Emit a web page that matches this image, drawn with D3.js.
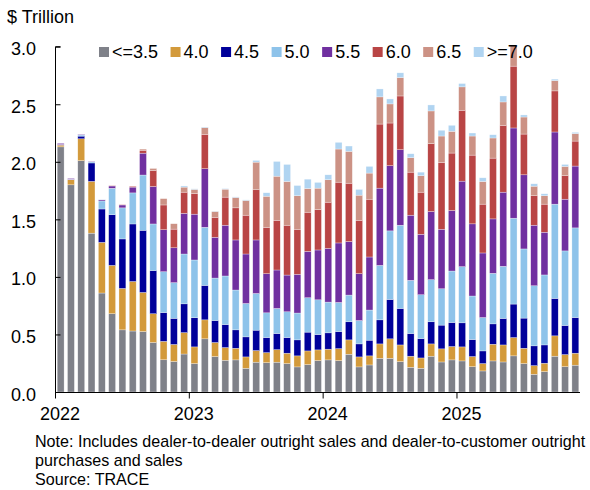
<!DOCTYPE html>
<html>
<head>
<meta charset="utf-8">
<script src="https://cdn.jsdelivr.net/npm/d3@7"></script>
<style>
    body { margin: 0; background: #fff; }
    svg text { font-family: "Liberation Sans", Arial, sans-serif; fill: #000; }
</style>
</head>
<body>
<script>
// 4-week periods, 13 per year (12 so far in 2025)
var years = [2022, 2023, 2024, 2025];
var periodsPerYear = [13, 13, 13, 12];

var couponLabels = ["<=3.5", "4.0", "4.5", "5.0", "5.5", "6.0", "6.5", ">=7.0"];
var couponColors = ["#7f8189", "#d39a3b", "#00009a", "#8ec3ea", "#7030a0", "#b94545", "#cc9285", "#b0d4f1"];

var yTicks = [0, 0.5, 1.0, 1.5, 2.0, 2.5, 3.0];

// $ trillion by coupon bucket
var c35 = [2.13, 1.80, 2.01, 1.38, 0.86, 0.68, 0.54, 0.53, 0.525, 0.43, 0.28, 0.265, 0.33,
    0.247, 0.462, 0.308, 0.276, 0.279, 0.206, 0.259, 0.255, 0.259, 0.247, 0.218, 0.238, 0.273,
    0.279, 0.273, 0.328, 0.218, 0.235, 0.293, 0.293, 0.264, 0.215, 0.206, 0.311, 0.261, 0.279,
    0.27, 0.22, 0.183, 0.27, 0.261, 0.314, 0.247, 0.154, 0.177, 0.311, 0.22, 0.233];
var c40 = [0.015, 0.044, 0.19, 0.45, 0.44, 0.42, 0.36, 0.43, 0.34, 0.25, 0.16, 0.148, 0.186,
    0.145, 0.165, 0.122, 0.11, 0.101, 0.099, 0.101, 0.087, 0.109, 0.09, 0.096, 0.119, 0.093,
    0.093, 0.104, 0.125, 0.087, 0.079, 0.125, 0.169, 0.145, 0.096, 0.09, 0.107, 0.114, 0.116,
    0.122, 0.088, 0.064, 0.145, 0.148, 0.159, 0.133, 0.075, 0.073, 0.177, 0.105, 0.104];
var c45 = [0.003, 0.002, 0.023, 0.16, 0.29, 0.44, 0.43, 0.50, 0.54, 0.375, 0.25, 0.227, 0.25,
    0.253, 0.299, 0.191, 0.2, 0.16, 0.174, 0.177, 0.131, 0.14, 0.136, 0.139, 0.163, 0.133,
    0.142, 0.148, 0.157, 0.113, 0.136, 0.209, 0.342, 0.317, 0.197, 0.168, 0.192, 0.206, 0.209,
    0.209, 0.148, 0.11, 0.177, 0.23, 0.291, 0.262, 0.172, 0.159, 0.325, 0.253, 0.31];
var c50 = [0.002, 0.002, 0.01, 0.01, 0.07, 0.23, 0.27, 0.27, 0.48, 0.405, 0.355, 0.31, 0.433,
    0.502, 0.505, 0.369, 0.422, 0.346, 0.29, 0.319, 0.215, 0.218, 0.224, 0.233, 0.299, 0.302,
    0.267, 0.253, 0.232, 0.203, 0.262, 0.473, 0.596, 0.723, 0.462, 0.381, 0.366, 0.316, 0.447,
    0.488, 0.378, 0.29, 0.439, 0.453, 0.746, 0.601, 0.522, 0.608, 0.819, 0.648, 0.779];
var c55 = [0.01, 0.007, 0.005, 0.005, 0.01, 0.02, 0.025, 0.05, 0.19, 0.325, 0.365, 0.303, 0.353,
    0.398, 0.509, 0.354, 0.441, 0.435, 0.43, 0.465, 0.34, 0.334, 0.319, 0.336, 0.403, 0.433,
    0.467, 0.517, 0.465, 0.407, 0.461, 0.671, 0.566, 0.656, 0.566, 0.525, 0.592, 0.517, 0.526,
    0.743, 0.627, 0.561, 0.473, 0.644, 0.784, 0.644, 0.526, 0.371, 0.627, 0.449, 0.537];
var c60 = [0, 0, 0, 0, 0, 0.003, 0.003, 0.007, 0.025, 0.14, 0.215, 0.162, 0.184,
    0.18, 0.299, 0.174, 0.244, 0.279, 0.337, 0.436, 0.403, 0.432, 0.433, 0.392, 0.34, 0.351,
    0.401, 0.528, 0.507, 0.464, 0.502, 0.557, 0.371, 0.467, 0.374, 0.366, 0.59, 0.581, 0.499,
    0.616, 0.597, 0.424, 0.528, 0.581, 0.537, 0.354, 0.256, 0.244, 0.357, 0.204, 0.217];
var c65 = [0, 0, 0, 0, 0, 0, 0, 0, 0.01, 0.017, 0.055, 0.047, 0.044,
    0.035, 0.058, 0.05, 0.069, 0.09, 0.128, 0.24, 0.27, 0.383, 0.38, 0.291, 0.206, 0.186,
    0.195, 0.288, 0.277, 0.218, 0.227, 0.236, 0.166, 0.16, 0.126, 0.143, 0.284, 0.229, 0.189,
    0.203, 0.166, 0.197, 0.175, 0.203, 0.179, 0.148, 0.083, 0.073, 0.09, 0.081, 0.065];
var c70 = [0, 0, 0, 0, 0.003, 0, 0, 0, 0, 0, 0, 0, 0.01,
    0.005, 0.005, 0.003, 0.005, 0.005, 0.005, 0.015, 0.03, 0.128, 0.148, 0.089, 0.081, 0.05,
    0.043, 0.058, 0.046, 0.05, 0.058, 0.069, 0.043, 0.041, 0.034, 0.031, 0.052, 0.05, 0.052,
    0.029, 0.026, 0.032, 0.028, 0.052, 0.005, 0.018, 0.021, 0.017, 0.012, 0.017, 0.011];

var series = [c35, c40, c45, c50, c55, c60, c65, c70];

var _width = 590, _height = 490;
var _plot = {left: 55, right: 580, top: 46.7, bottom: 392};

var periods = [];
years.forEach(function (yr, k) {
    for (var p = 1; p <= periodsPerYear[k]; p++) {
        periods.push(yr + "-" + p);
    }
});

var rows = periods.map(function (p, i) {
    var row = {period: p, idx: i};
    couponLabels.forEach(function (c, j) {
        row[c] = series[j][i];
    });
    return row;
});

var stacked = d3.stack().keys(couponLabels)(rows);

var x = d3.scaleLinear()
    .domain([0, periods.length])
    .range([_plot.left, _plot.right]);

var y = d3.scaleLinear()
    .domain([0, 3])
    .range([_plot.bottom, _plot.top]);

var color = d3.scaleOrdinal().domain(couponLabels).range(couponColors);

var svg = d3.select("body").append("svg")
    .attr("width", _width)
    .attr("height", _height);

svg.append("text")
    .attr("x", 7)
    .attr("y", 23)
    .style("font-size", "18px")
    .text("$ Trillion");

// bars
var step = x(1) - x(0);
var gap = 3.4;

svg.append("g").attr("class", "bars")
    .selectAll("g")
    .data(stacked)
    .enter().append("g")
    .attr("fill", function (d) { return color(d.key); })
    .selectAll("rect")
    .data(function (d) { return d; })
    .enter().append("rect")
    .attr("x", function (d) { return x(d.data.idx) + gap / 2 + 0.5; })
    .attr("width", step - gap)
    .attr("y", function (d) { return y(d[1]); })
    .attr("height", function (d) { return Math.max(0, y(d[0]) - y(d[1])); })
    .attr("stroke", "#fff")
    .attr("stroke-opacity", 0.6)
    .attr("stroke-width", 0.5);

// y axis, ticks pointing into the plot
var yAxis = d3.axisRight(y)
    .tickValues(yTicks)
    .tickSize(5)
    .tickFormat("");

svg.append("g")
    .attr("transform", "translate(" + (_plot.left + 0.5) + ",0)")
    .call(yAxis)
    .call(function (g) {
        g.select(".domain").attr("d", "M5," + y(3) + "H0V" + (_plot.bottom + 0.5));
        g.selectAll("line, path").attr("stroke", "#000");
    });

svg.append("g").attr("class", "ylabels")
    .selectAll("text")
    .data(yTicks)
    .enter().append("text")
    .attr("x", 36)
    .attr("y", function (d) { return y(d) + 8.5; })
    .attr("text-anchor", "end")
    .style("font-size", "18px")
    .text(function (d) { return d3.format(".1f")(d); });

// x axis with year ticks
var yearStarts = [];
var acc = 0;
periodsPerYear.forEach(function (n) {
    yearStarts.push(acc);
    acc += n;
});

var xAxis = d3.axisBottom(x)
    .tickValues(yearStarts)
    .tickSize(6)
    .tickFormat("");

svg.append("g")
    .attr("transform", "translate(0," + (_plot.bottom + 0.5) + ")")
    .call(xAxis)
    .call(function (g) {
        g.select(".domain").attr("d", "M" + (_plot.left) + ",0H" + _plot.right);
        g.selectAll("line, path").attr("stroke", "#000");
    });

svg.append("g").attr("class", "xlabels")
    .selectAll("text")
    .data(yearStarts)
    .enter().append("text")
    .attr("x", function (d) { return x(d) + 5; })
    .attr("y", 420)
    .attr("text-anchor", "middle")
    .style("font-size", "18px")
    .text(function (d, i) { return years[i]; });

// legend
var legend = svg.append("g").attr("class", "legend");
var lx = 99;
couponLabels.forEach(function (c) {
    legend.append("rect")
        .attr("x", lx)
        .attr("y", 47)
        .attr("width", 10)
        .attr("height", 10)
        .attr("fill", color(c));
    var t = legend.append("text")
        .attr("x", lx + 13)
        .attr("y", 58)
        .style("font-size", "18px")
        .text(c);
    lx = lx + 13 + t.node().getComputedTextLength() + 12.5;
});

// notes
var notes = [
    "Note: Includes dealer-to-dealer outright sales and dealer-to-customer outright",
    "purchases and sales",
    "Source: TRACE"
];
svg.append("g").attr("class", "notes")
    .selectAll("text")
    .data(notes)
    .enter().append("text")
    .attr("x", 35)
    .attr("y", function (d, i) { return 447 + i * 19; })
    .style("font-size", "16.1px")
    .text(function (d) { return d; });
</script>
</body>
</html>
